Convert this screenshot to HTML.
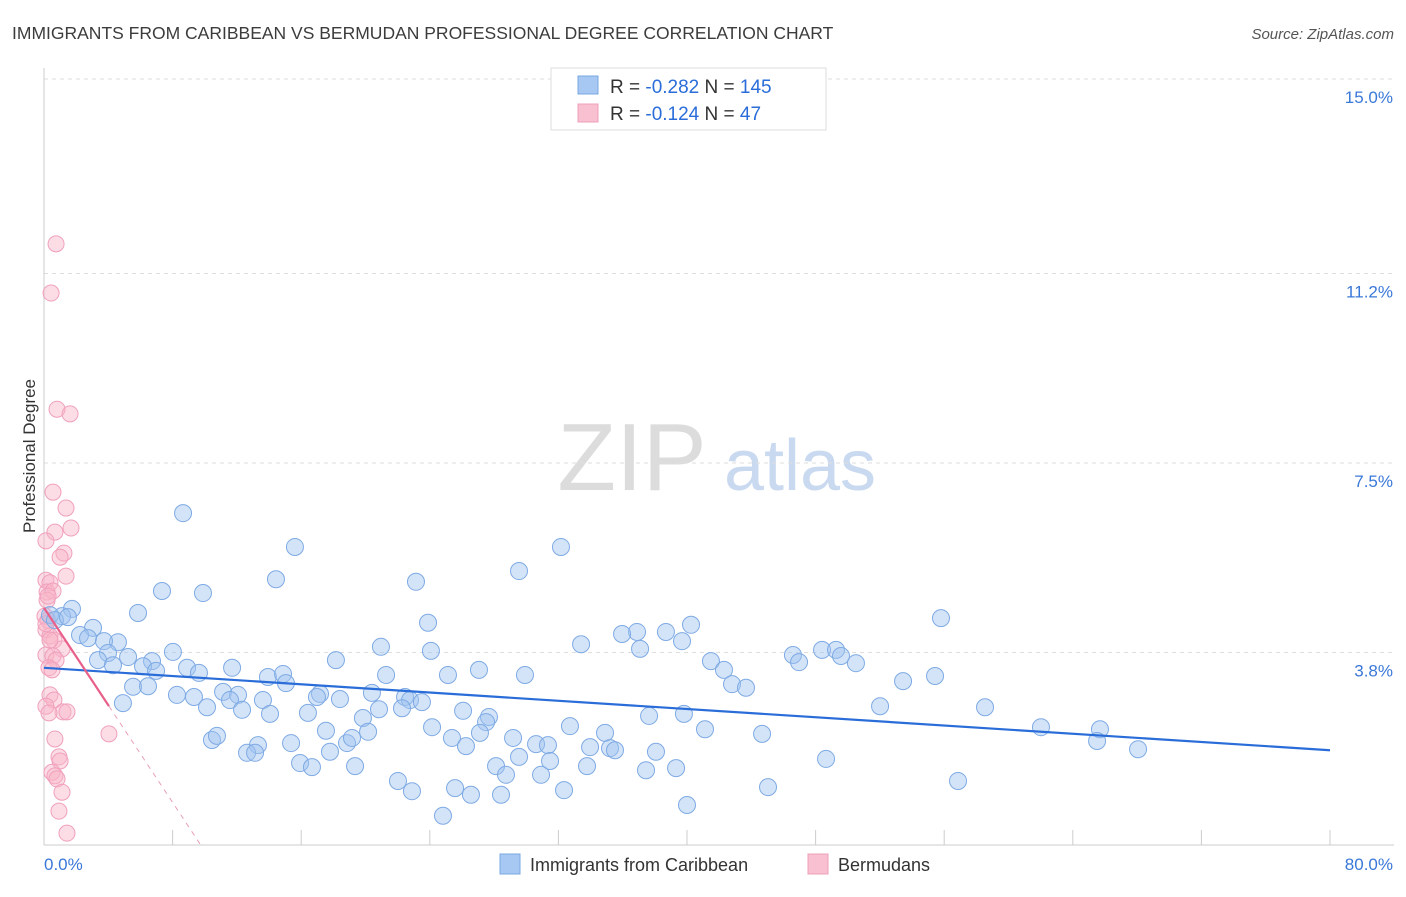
<!DOCTYPE html>
<html><head><meta charset="utf-8"><style>
body{margin:0;background:#fff;font-family:"Liberation Sans",sans-serif;}
svg text{font-family:"Liberation Sans",sans-serif;}
</style></head><body>
<svg id="chart" width="1406" height="892" viewBox="0 0 1406 892" xmlns="http://www.w3.org/2000/svg">
<text x="12" y="39" font-size="17.5" fill="#3c3c3c">IMMIGRANTS FROM CARIBBEAN VS BERMUDAN PROFESSIONAL DEGREE CORRELATION CHART</text>
<text x="1394" y="39" font-size="15" fill="#555" font-style="italic" text-anchor="end">Source: ZipAtlas.com</text>
<g>
<text x="632" y="490" font-size="96" fill="#dcdcdc" font-family="Liberation Serif, serif" text-anchor="middle">ZIP</text>
<text x="800" y="490" font-size="72" fill="#c9d9f0" text-anchor="middle">atlas</text>
</g>
<g id="grid"></g>
<g id="axes"></g>
<g id="pink"></g>
<g id="blue"></g>
<g id="lines"></g>
<text x="35" y="456" font-size="17" fill="#333" text-anchor="middle" transform="rotate(-90 35 456)">Professional Degree</text>
<g>
<rect x="551" y="68" width="275" height="62" fill="#fff" stroke="#ddd"/>
<rect x="578" y="76" width="20" height="18" fill="#a8c8f4" stroke="#7aa8e0"/>
<rect x="578" y="104" width="20" height="18" fill="#f8c0d0" stroke="#eea0b8"/>
<text x="610" y="93" font-size="19" fill="#333">R = <tspan fill="#2a6dd9">-0.282</tspan>    N = <tspan fill="#2a6dd9">145</tspan></text>
<text x="610" y="120" font-size="19" fill="#333">R = <tspan fill="#2a6dd9"> -0.124</tspan>    N = <tspan fill="#2a6dd9">  47</tspan></text>
</g>
<g>
<rect x="500" y="854" width="20" height="20" fill="#a8c8f4" stroke="#7aa8e0"/>
<text x="530" y="871" font-size="18" fill="#333">Immigrants from Caribbean</text>
<rect x="808" y="854" width="20" height="20" fill="#f8c0d0" stroke="#eea0b8"/>
<text x="838" y="871" font-size="18" fill="#333">Bermudans</text>
</g>
</svg>
<script>
const yTicks=[15.0,11.2,7.5,3.8];
const yTickLabels=["15.0%","11.2%","7.5%","3.8%"];
const xTickLabels=["0.0%","80.0%"];
const blueX=[8.65,15.61,32.16,29.55,7.34,9.89,14.43,23.14,5.85,1.74,1.12,0.37,0.68,1.49,23.89,55.80,40.25,36.89,38.69,35.96,33.41,39.69,37.08,3.05,2.24,2.74,4.60,3.73,3.98,5.23,6.72,8.02,3.36,4.29,6.16,6.97,8.90,9.64,11.70,13.93,14.87,15.05,18.16,20.96,24.07,21.28,25.13,27.06,29.92,41.49,42.30,46.59,46.97,48.40,49.27,49.58,50.51,42.80,43.67,53.44,55.43,5.54,6.47,8.27,9.33,11.14,12.07,11.57,10.14,4.91,13.62,12.32,14.06,17.17,16.98,18.41,20.40,22.46,22.77,22.27,20.84,23.51,16.42,19.84,26.07,27.68,27.50,32.72,24.14,37.64,41.12,39.81,52.01,58.54,62.02,65.69,65.51,68.06,44.67,34.90,17.54,20.16,10.45,10.76,13.31,15.37,12.63,13.13,17.79,18.85,19.16,25.38,26.25,27.12,29.18,30.61,31.35,33.97,35.21,35.52,38.07,15.93,16.67,19.35,28.12,28.74,29.55,31.48,33.78,37.45,39.32,48.65,22.02,22.89,25.57,26.56,28.43,30.92,32.35,40.00,45.04,56.86,24.82];
const blueY=[6.52,5.86,5.86,5.39,5.00,4.96,5.23,5.18,4.57,4.65,4.51,4.53,4.43,4.49,4.38,4.47,4.34,4.20,4.20,4.16,3.96,4.02,3.87,4.28,4.14,4.08,4.00,4.02,3.79,3.71,3.63,3.81,3.65,3.55,3.53,3.44,3.50,3.40,3.50,3.32,3.38,3.20,3.65,3.91,3.83,3.36,3.36,3.46,3.36,3.63,3.46,3.75,3.61,3.85,3.85,3.73,3.59,3.18,3.11,3.24,3.34,3.13,3.14,2.97,2.93,3.03,2.97,2.87,2.73,2.81,2.87,2.68,2.60,2.99,2.93,2.89,3.01,2.93,2.87,2.71,2.69,2.83,2.62,2.52,2.66,2.54,2.44,2.36,2.34,2.56,2.30,2.60,2.75,2.73,2.34,2.30,2.07,1.91,2.21,2.23,2.27,2.25,2.09,2.17,1.99,2.03,1.84,1.84,1.86,2.03,2.13,2.13,1.97,2.23,2.13,2.01,1.99,1.95,1.93,1.89,1.86,1.64,1.56,1.58,1.58,1.41,1.76,1.68,1.58,1.50,1.54,1.72,1.29,1.09,1.15,1.02,1.02,1.41,1.11,0.82,1.17,1.29,0.61];
const pinkX=[0.75,0.44,0.81,1.62,0.56,1.37,1.68,0.68,0.12,1.24,1.00,1.37,0.12,0.37,0.19,0.56,0.19,0.25,0.12,0.37,0.62,1.12,0.12,0.56,0.75,0.31,0.50,0.37,0.62,0.12,1.18,0.31,1.43,4.04,0.68,0.93,1.00,0.50,0.68,0.81,1.12,0.93,1.43,0.25,0.06,0.12,0.37];
const pinkY=[11.78,10.82,8.55,8.46,6.93,6.62,6.23,6.15,5.98,5.74,5.66,5.29,5.21,5.16,4.98,5.00,4.82,4.43,4.24,4.12,4.04,3.87,3.75,3.73,3.65,3.50,3.46,2.97,2.87,2.75,2.64,2.62,2.64,2.21,2.11,1.76,1.68,1.46,1.39,1.33,1.07,0.70,0.27,4.90,4.51,4.36,4.04];
const blueTrend=[3.50,1.89]; // y at x=0 and x=80
const pinkTrend=[4.67,-0.475]; // intercept, slope
const pinkXMax=4.04;

const NS="http://www.w3.org/2000/svg";
const X=v=>44+v*16.075;
const Y=v=>847-v*51.2;
function mk(tag,parent,attrs){const e=document.createElementNS(NS,tag);for(const k in attrs)e.setAttribute(k,attrs[k]);parent.appendChild(e);return e;}
const grid=document.getElementById('grid'),axes=document.getElementById('axes');
yTicks.forEach((t,i)=>{
 const l=mk('line',grid,{x1:44,x2:1394,y1:Y(t),y2:Y(t),stroke:'#dedede','stroke-dasharray':'4 4'});
 
 
 const tx=mk('text',axes,{x:1393,y:Y(t)+24,'font-size':17,fill:'#3a78d8','text-anchor':'end'});
 tx.textContent=yTickLabels[i];
 
 
});
const ya=mk('line',axes,{x1:44,x2:44,y1:68,y2:845,stroke:'#ccc'});


const xa=mk('line',axes,{x1:44,x2:1394,y1:845,y2:845,stroke:'#ccc'});


for(let i=0;i<=10;i++){
 const t=mk('line',axes,{x1:X(i*8),x2:X(i*8),y1:830,y2:845,stroke:'#ccc'});
 
 
}
const xl0=mk('text',axes,{x:44,y:870,'font-size':17,fill:'#3a78d8'});
xl0.textContent=xTickLabels[0];


const xl1=mk('text',axes,{x:1393,y:870,'font-size':17,fill:'#3a78d8','text-anchor':'end'});
xl1.textContent=xTickLabels[1];


const pg=document.getElementById('pink');
pinkX.forEach((v,i)=>{
 const c=mk('circle',pg,{cx:X(v),cy:Y(pinkY[i]),r:8,fill:'rgba(248,180,200,0.45)',stroke:'#f0a0bc','stroke-width':1});
 
 
});
const bg=document.getElementById('blue');
blueX.forEach((v,i)=>{
 const c=mk('circle',bg,{cx:X(v),cy:Y(blueY[i]),r:8.5,fill:'rgba(160,196,240,0.45)',stroke:'#7eaae4','stroke-width':1});
 
 
});
const lg=document.getElementById('lines');
const bl=mk('line',lg,{x1:X(0),y1:Y(blueTrend[0]),x2:X(80),y2:Y(blueTrend[1]),stroke:'#2a6dd9','stroke-width':2.2});


const pEnd=pinkTrend[0]+pinkTrend[1]*pinkXMax;
const pl=mk('line',lg,{x1:X(0),y1:Y(pinkTrend[0]),x2:X(pinkXMax),y2:Y(pEnd),stroke:'#e8608a','stroke-width':2.2});


const zeroX=-pinkTrend[0]/pinkTrend[1];
const pd=mk('line',lg,{x1:X(pinkXMax),y1:Y(pEnd),x2:X(zeroX),y2:Y(0),stroke:'#e8a0b8','stroke-width':1,'stroke-dasharray':'5 5'});


</script>
</body></html>
